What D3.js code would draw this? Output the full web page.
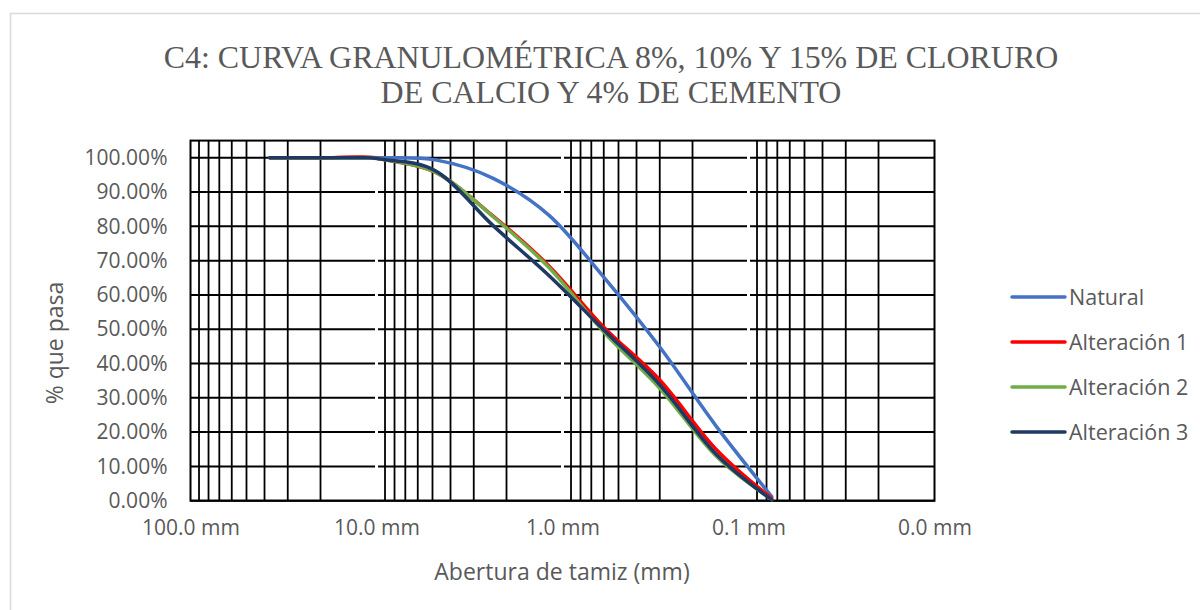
<!DOCTYPE html>
<html><head><meta charset="utf-8">
<script src="https://cdn.jsdelivr.net/npm/d3@7"></script>
<style>body{margin:0;background:#fff}</style>
</head><body><svg id="c" width="1200" height="610"></svg>
<script>
// ---- data ----
const sizes   = [37.5, 25, 19, 12.5, 9.5, 4.75, 2.36, 1.18, 0.6, 0.3, 0.15, 0.075];
const natural = [100, 100, 100, 100, 100, 99.3, 94.0, 83.2, 65.2, 44.8, 21.9, 1.2];
const alt1    = [100, 100, 100, 100.2, 99.6, 95.6, 83.0, 68.4, 50.6, 35.2, 15.1, 0.7];
const alt2    = [100, 100, 100, 100, 99.6, 95.6, 82.8, 67.9, 49.2, 32.8, 13.1, 0.3];
const alt3    = [100, 100, 100, 100, 99.6, 96.0, 80.2, 65.6, 49.8, 33.8, 13.7, 0.3];
const seriesNames  = ["Natural", "Alteración 1", "Alteración 2", "Alteración 3"];
const seriesValues = [natural, alt1, alt2, alt3];
const seriesColors = ["#4472C4", "#FF0000", "#70AD47", "#1F3864"];
const yTicks = [0, 10, 20, 30, 40, 50, 60, 70, 80, 90, 100];
const xTicks = [100, 10, 1, 0.1, 0.01];
const xTickLabels = ["100.0 mm", "10.0 mm", "1.0 mm", "0.1 mm", "0.0 mm"];
const titleLines = ["C4: CURVA GRANULOMÉTRICA 8%, 10% Y 15% DE CLORURO", "DE CALCIO Y 4% DE CEMENTO"];

// ---- layout ----
const svg = d3.select("#c");
const L = 190.5, R = 934.5, B = 500.7, T = 140.6;
const x = d3.scaleLog().domain([100, 0.01]).range([L, R]);
const y = d3.scaleLinear().domain([0, 105]).range([B, T]);
const txt = "#595959";
const sans = "'Open Sans', 'Noto Sans', sans-serif";

// outer chart border
svg.append("rect").attr("x", 10.5).attr("y", 13.5).attr("width", 1200).attr("height", 610)
  .attr("fill", "#fff").attr("stroke", "#d9d9d9").attr("stroke-width", 1.5);

// title
const title = svg.append("g").attr("font-family", "'Liberation Serif', 'Times New Roman', serif").attr("fill", txt).attr("text-anchor", "middle");
const t1 = title.append("text").attr("x", 611).attr("y", 68).attr("font-size", 30).text(titleLines[0]);
const w1 = t1.node().getComputedTextLength();
let fs = Math.max(26, Math.min(33, 30 * 895 / w1));
t1.attr("font-size", fs);
title.append("text").attr("x", 611).attr("y", 103).attr("font-size", fs).text(titleLines[1]);

// gridlines
const grid = svg.append("g");
yTicks.forEach(v => {
  grid.append("line").attr("x1", L).attr("x2", R).attr("y1", y(v)).attr("y2", y(v))
    .attr("stroke", "#000").attr("stroke-width", 2);
});
const minors = [];
[10, 1, 0.1, 0.01].forEach(d => { for (let k = 2; k <= 9; k++) minors.push(k * d); });
minors.forEach(v => {
  grid.append("line").attr("x1", x(v)).attr("x2", x(v)).attr("y1", T).attr("y2", B)
    .attr("stroke", "#000").attr("stroke-width", 1.8);
});
// white major (decade) gridlines
[10, 1, 0.1].forEach(v => {
  grid.append("line").attr("x1", x(v)).attr("x2", x(v)).attr("y1", T + 1.5).attr("y2", B - 1.5)
    .attr("stroke", "#fff").attr("stroke-width", 3);
});
// plot border
svg.append("rect").attr("x", L).attr("y", T).attr("width", R - L).attr("height", B - T)
  .attr("fill", "none").attr("stroke", "#000").attr("stroke-width", 2);

// y tick labels
const yAxis = d3.axisLeft(y).tickValues(yTicks).tickFormat(v => v.toFixed(2) + "%").tickSize(0).tickPadding(23);
const ya = svg.append("g").attr("transform", `translate(${L},0)`).call(yAxis);
ya.select(".domain").remove();
ya.selectAll("text").attr("font-family", sans).attr("font-size", 21).attr("fill", txt);

// x tick labels
const xAxis = d3.axisBottom(x).tickValues(xTicks).tickFormat((v, i) => xTickLabels[i]).tickSize(0).tickPadding(19);
const xa = svg.append("g").attr("transform", `translate(0,${B})`).call(xAxis);
xa.select(".domain").remove();
xa.selectAll("text").attr("font-family", sans).attr("font-size", 21).attr("fill", txt);

// axis titles
svg.append("text").attr("x", 562).attr("y", 580).attr("text-anchor", "middle")
  .attr("font-family", sans).attr("font-size", 23).attr("fill", txt).text("Abertura de tamiz (mm)");
svg.append("text").attr("transform", "translate(63,343) rotate(-90)").attr("text-anchor", "middle")
  .attr("font-family", sans).attr("font-size", 23).attr("fill", txt).text("% que pasa");

// series
const line = d3.line().x(d => x(d[0])).y(d => y(d[1])).curve(d3.curveCatmullRom.alpha(0));
seriesValues.forEach((vals, i) => {
  svg.append("path").datum(sizes.map((s, j) => [s, vals[j]]))
    .attr("d", line).attr("fill", "none").attr("stroke", seriesColors[i])
    .attr("stroke-width", 3.5).attr("stroke-linejoin", "round").attr("stroke-linecap", "round");
});

// legend
const legY = [297, 342, 387, 432];
seriesNames.forEach((n, i) => {
  svg.append("line").attr("x1", 1012).attr("x2", 1065).attr("y1", legY[i]).attr("y2", legY[i])
    .attr("stroke", seriesColors[i]).attr("stroke-width", 3.5).attr("stroke-linecap", "round");
  svg.append("text").attr("x", 1069).attr("y", legY[i] + 7.5).attr("font-family", sans)
    .attr("font-size", 21.5).attr("fill", txt).text(n);
});
</script></body></html>
